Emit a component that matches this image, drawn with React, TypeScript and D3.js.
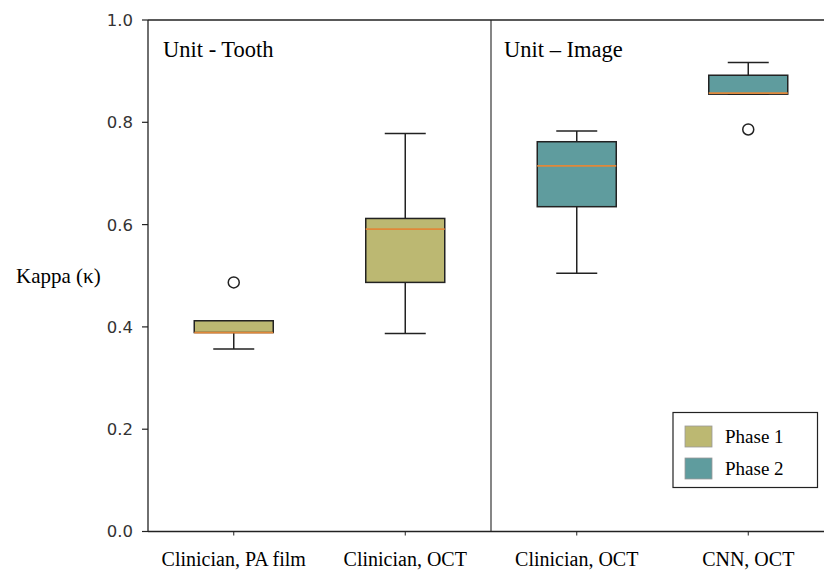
import * as React from "react";
import * as d3 from "d3";

// group labels shown in the x axis
const categories = ["Clinician, PA film", "Clinician, OCT", "Clinician, OCT ", "CNN, OCT"];
const phases = [1, 1, 2, 2];
const whiskerLow = [0.357, 0.387, 0.505, 0.855];
const q1 = [0.389, 0.487, 0.635, 0.855];
const medians = [0.389, 0.591, 0.715, 0.857];
const q3 = [0.412, 0.612, 0.762, 0.892];
const whiskerHigh = [0.412, 0.778, 0.783, 0.917];
const outliers = [[0.487], [], [], [0.786]];
const yTicks = [0.0, 0.2, 0.4, 0.6, 0.8, 1.0];
const panelTitles = ["Unit - Tooth", "Unit – Image"];
const legendLabels = ["Phase 1", "Phase 2"];

const phaseColor: Record<number, string> = { 1: "#bcb872", 2: "#5f9c9e" };
const lineColor = "#222";
const serif = '"Liberation Serif", "DejaVu Serif", serif';
const sans = '"DejaVu Sans", sans-serif';

export default function App() {
  const width = 824;
  const height = 571;
  const left = 148;
  const top = 20;
  const bottom = 531.5;

  const x = d3
    .scalePoint<string>()
    .domain(categories)
    .range([left, left + 4 * 171.5])
    .padding(0.5);
  const y = d3.scaleLinear().domain([0, 1]).range([bottom, top]);

  const boxW = 79;
  const capW = 41;
  const divider = (x(categories[1])! + x(categories[2])!) / 2;

  return (
    <svg
      width={width}
      height={height}
      style={{ position: "absolute", left: 0, top: 0, background: "#fff" }}
    >
      {/* frame */}
      <line x1={left} x2={width} y1={top} y2={top} stroke={lineColor} strokeWidth={1.3} />
      <line x1={left} x2={width} y1={bottom} y2={bottom} stroke={lineColor} strokeWidth={1.3} />
      <line x1={left} x2={left} y1={top} y2={bottom} stroke={lineColor} strokeWidth={1.3} />
      <line x1={divider} x2={divider} y1={top} y2={bottom} stroke={lineColor} strokeWidth={1.1} />

      {/* y axis */}
      {yTicks.map((t) => (
        <g key={t} transform={`translate(${left},${y(t)})`}>
          <line x1={-6} x2={0} stroke={lineColor} strokeWidth={1.2} />
          <text
            x={-15}
            dy="0.36em"
            textAnchor="end"
            fontFamily={sans}
            fontSize={16.5}
            fill="#333"
          >
            {t.toFixed(1)}
          </text>
        </g>
      ))}
      <text x={16} y={283} fontFamily={serif} fontSize={21} fill="#000">
        Kappa (κ)
      </text>

      {/* x axis */}
      {categories.map((c) => (
        <g key={c} transform={`translate(${x(c)},${bottom})`}>
          <line y1={0} y2={4} stroke={lineColor} strokeWidth={1} />
          <text y={34.5} textAnchor="middle" fontFamily={serif} fontSize={20} fill="#000">
            {c.trim()}
          </text>
        </g>
      ))}

      {/* panel titles */}
      <text x={left + 15} y={57} fontFamily={serif} fontSize={22.5} fill="#000">
        {panelTitles[0]}
      </text>
      <text x={divider + 13} y={57} fontFamily={serif} fontSize={22.5} fill="#000">
        {panelTitles[1]}
      </text>

      {/* boxes */}
      {categories.map((c, i) => {
        const cx = x(c)!;
        return (
          <g key={"box" + i}>
            <line x1={cx} x2={cx} y1={y(whiskerLow[i])} y2={y(q1[i])} stroke={lineColor} strokeWidth={1.5} />
            <line x1={cx} x2={cx} y1={y(q3[i])} y2={y(whiskerHigh[i])} stroke={lineColor} strokeWidth={1.5} />
            <line x1={cx - capW / 2} x2={cx + capW / 2} y1={y(whiskerLow[i])} y2={y(whiskerLow[i])} stroke={lineColor} strokeWidth={1.5} />
            <line x1={cx - capW / 2} x2={cx + capW / 2} y1={y(whiskerHigh[i])} y2={y(whiskerHigh[i])} stroke={lineColor} strokeWidth={1.5} />
            <rect
              x={cx - boxW / 2}
              y={y(q3[i])}
              width={boxW}
              height={y(q1[i]) - y(q3[i])}
              fill={phaseColor[phases[i]]}
              stroke={lineColor}
              strokeWidth={1.5}
            />
            <line
              x1={cx - boxW / 2}
              x2={cx + boxW / 2}
              y1={y(medians[i])}
              y2={y(medians[i])}
              stroke="#e0883a"
              strokeWidth={1.8}
            />
            {outliers[i].map((o, j) => (
              <circle key={j} cx={cx} cy={y(o)} r={5.5} fill="none" stroke={lineColor} strokeWidth={1.5} />
            ))}
          </g>
        );
      })}

      {/* legend */}
      <g transform="translate(673,412.5)">
        <rect width={144.5} height={75} fill="#fff" stroke={lineColor} strokeWidth={1.2} />
        {legendLabels.map((l, i) => (
          <g key={l} transform={`translate(12,${13.5 + i * 32})`}>
            <rect width={27} height={21} fill={phaseColor[i + 1]} stroke="#999" strokeWidth={0.8} />
            <text x={40} y={17} fontFamily={serif} fontSize={19} fill="#000">
              {l}
            </text>
          </g>
        ))}
      </g>
    </svg>
  );
}
